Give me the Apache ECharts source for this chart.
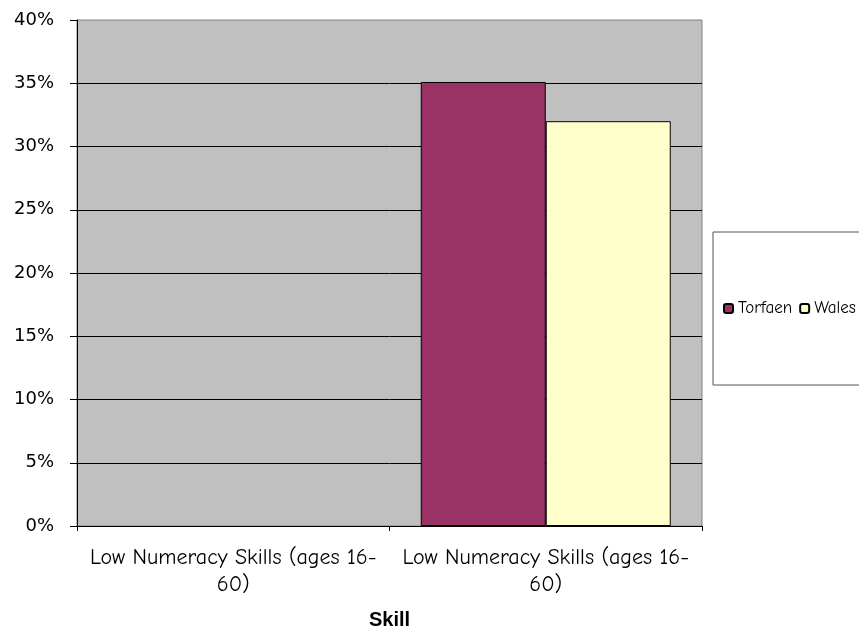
<!DOCTYPE html>
<html>
<head>
<meta charset="utf-8">
<script src="https://cdn.jsdelivr.net/npm/echarts@6/dist/echarts.min.js"></script>
<style>
  html, body { margin: 0; padding: 0; background: #fff; }
  #container { width: 859px; height: 632px; }
</style>
</head>
<body>
<div id="container"></div>
<script>
var categories = ["Low Numeracy Skills (ages 16-60)", "Low Numeracy Skills (ages 16-60)"];
var seriesNames = ["Torfaen", "Wales"];
var torfaen = ["-", 35.1];
var wales = ["-", 32];
var yTicks = { min: 0, max: 40, interval: 5 };

var comic = "'Comic Sans MS', 'Comic Neue', 'DejaVu Sans', sans-serif";
var dom = document.getElementById("container");
var myChart = echarts.init(dom);

var barStyle = function(color) {
  return { color: color, borderColor: "#000", borderWidth: 1 };
};

var option = {
  animation: false,
  backgroundColor: "#fff",
  grid: {
    left: 77,
    top: 20,
    right: 157,
    bottom: 106,
    outerBoundsMode: "none",
    containLabel: false,
    show: true,
    backgroundColor: "#c0c0c0",
    borderColor: "#808080",
    borderWidth: 1
  },
  legend: {
    data: seriesNames,
    orient: "horizontal",
    left: 713,
    top: 232,
    width: 240,
    padding: [68, 60, 68, 10],
    itemWidth: 9,
    itemHeight: 9,
    itemGap: 7,
    borderColor: "#555",
    borderWidth: 1,
    backgroundColor: "#fff",
    textStyle: { fontFamily: comic, fontSize: 17, color: "#000" }
  },
  xAxis: {
    type: "category",
    data: categories,
    name: "Skill",
    nameLocation: "middle",
    nameGap: 84,
    nameTextStyle: { fontFamily: "'Liberation Sans', Arial, sans-serif", fontWeight: "bold", fontSize: 20, color: "#000" },
    axisLine: { lineStyle: { color: "#000", width: 1 } },
    axisTick: { show: true, length: 5, lineStyle: { color: "#000" } },
    axisLabel: {
      fontFamily: comic,
      fontSize: 22,
      color: "#000",
      margin: 18,
      lineHeight: 27,
      interval: 0,
      formatter: function(v) { return v.replace("16-", "16-\n"); }
    }
  },
  yAxis: {
    type: "value",
    min: yTicks.min,
    max: yTicks.max,
    interval: yTicks.interval,
    axisLine: { show: true, lineStyle: { color: "#000", width: 1 } },
    axisTick: { show: true, length: 7, lineStyle: { color: "#000" } },
    axisLabel: {
      fontFamily: "'DejaVu Sans', Verdana, sans-serif",
      fontSize: 18,
      color: "#000",
      margin: 23,
      formatter: "{value}%"
    },
    splitLine: { show: true, showMaxLine: false, lineStyle: { color: "#000", width: 1 } }
  },
  series: [
    {
      name: "Torfaen",
      type: "bar",
      data: torfaen,
      barWidth: "40%",
      barGap: "0%",
      itemStyle: barStyle("#993366")
    },
    {
      name: "Wales",
      type: "bar",
      data: wales,
      barWidth: "40%",
      barGap: "0%",
      itemStyle: barStyle("#ffffcc")
    }
  ]
};

myChart.setOption(option, true);
</script>
</body>
</html>
